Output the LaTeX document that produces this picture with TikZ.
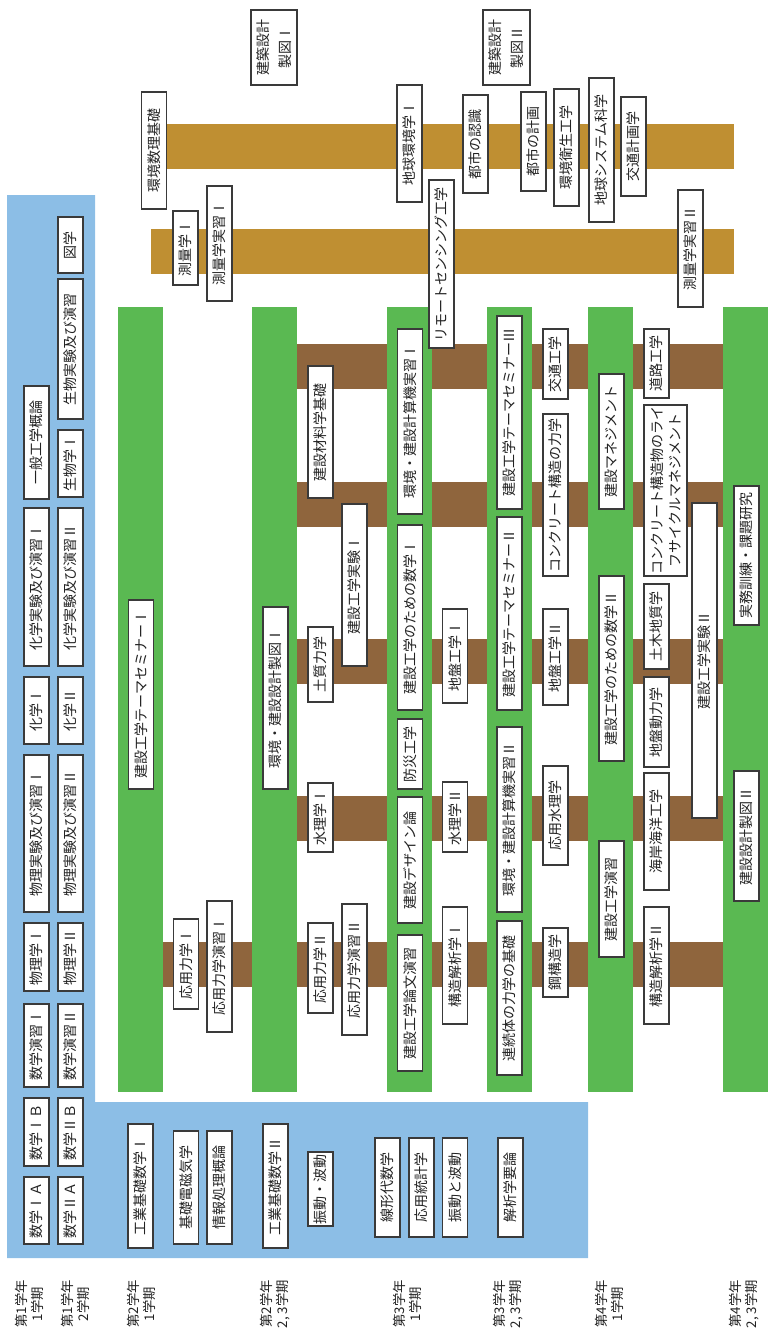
\documentclass[tikz,border=0pt]{standalone}
\usepackage{fontspec}
\newfontfamily\jpfont{Noto Sans CJK JP}
\usepackage{xcolor}
\definecolor{areaBlue}{HTML}{8CBEE6}
\definecolor{termGreen}{HTML}{5AB952}
\definecolor{linkBrown}{HTML}{8F653D}
\definecolor{linkGold}{HTML}{BF8F32}
\definecolor{boxLine}{HTML}{3A3A3A}
\definecolor{darkText}{HTML}{222222}
\tikzset{
    % subject boxes, text running bottom to top
    subject/.style={
        draw=boxLine,
        line width=0.9pt,
        fill=white,
        rotate=90,
        font=\jpfont\fontsize{10.5}{12.5}\selectfont,
        text=darkText,
        inner sep=0pt,
        align=center,
        minimum height=25*0.75pt,
    },
    % box length along the text, in pixels of the sheet
    tall/.style={minimum width=#1*0.75pt},
    wide/.style={minimum height=#1*0.75pt},
    % semester labels under the chart
    term/.style={
        rotate=90,
        align=center,
        text=darkText,
        font=\jpfont\fontsize{10}{12}\selectfont,
    },
    termbar/.style={fill=termGreen},
    link/.style={fill=linkBrown},
    survey/.style={fill=linkGold},
}

\begin{document}
\begin{tikzpicture}[x=0.75pt, y=-0.75pt]
    \useasboundingbox (0,0) rectangle (768,1335);

    % common subjects area
    \fill[areaBlue] (7,195) -- (95,195) -- (95,1102) -- (588,1102)
        -- (588,1258) -- (7,1258) -- cycle;

    % survey links
    \fill[survey] (160,124) rectangle (734,169);
    \fill[survey] (151,229) rectangle (734,274);

    % links between terms
    \foreach \y in {344,482,639,796}
        \fill[link] (297,\y) rectangle (723,\y+45);
    \fill[link] (163,942) rectangle (723,987);

    % terms
    \foreach \x in {118,252,387,487,588,723}
        \fill[termbar] (\x,307) rectangle (\x+45,1092);

    % 1st year
    \node (math1a) [subject, tall=67] at (36.5,1210.5) {数学ⅠＡ};
    \node (math2a) [subject, tall=67] at (70.5,1210.5) {数学ⅡＡ};
    \node (math1b) [subject, tall=68] at (36.5,1132) {数学ⅠＢ};
    \node (math2b) [subject, tall=68] at (70.5,1132) {数学ⅡＢ};
    \node (mathex1) [subject, tall=83] at (36.5,1045.5) {数学演習Ⅰ};
    \node (mathex2) [subject, tall=83] at (70.5,1045.5) {数学演習Ⅱ};
    \node (phys1) [subject, tall=68] at (36.5,957) {物理学Ⅰ};
    \node (phys2) [subject, tall=68] at (70.5,957) {物理学Ⅱ};
    \node (physlab1) [subject, tall=157] at (36.5,833.5) {物理実験及び演習Ⅰ};
    \node (physlab2) [subject, tall=157] at (70.5,833.5) {物理実験及び演習Ⅱ};
    \node (chem1) [subject, tall=67] at (36.5,710.5) {化学Ⅰ};
    \node (chem2) [subject, tall=67] at (70.5,710.5) {化学Ⅱ};
    \node (chemlab1) [subject, tall=158] at (36.5,587) {化学実験及び演習Ⅰ};
    \node (chemlab2) [subject, tall=158] at (70.5,587) {化学実験及び演習Ⅱ};
    \node (geneng) [subject, tall=113] at (36.5,442.5) {一般工学概論};
    \node (bio1) [subject, tall=67] at (70.5,463.5) {生物学Ⅰ};
    \node (biolab) [subject, tall=140] at (70.5,349) {生物実験及び演習};
    \node (drawing) [subject, tall=56] at (70.5,245) {図学};

    % common subjects, later years
    \node (engmath1) [subject, tall=124] at (140.5,1186) {工業基礎数学Ⅰ};
    \node (emag) [subject, tall=113] at (186,1187.5) {基礎電磁気学};
    \node (infoproc) [subject, tall=113] at (219.5,1187.5) {情報処理概論};
    \node (engmath2) [subject, tall=124] at (275.5,1186) {工業基礎数学Ⅱ};
    \node (vibwave) [subject, tall=74] at (320.5,1189) {振動・波動};
    \node (linalg) [subject, tall=99] at (387.5,1187.5) {線形代数学};
    \node (appstat) [subject, tall=99] at (421.5,1187.5) {応用統計学};
    \node (vibwave2) [subject, tall=99] at (455,1187.5) {振動と波動};
    \node (analysis) [subject, tall=99] at (510.5,1187.5) {解析学要論};

    % 2nd year
    \node (seminar1) [subject, tall=189] at (141,694.5) {建設工学テーマセミナーⅠ};
    \node (mech1) [subject, tall=90] at (186,964) {応用力学Ⅰ};
    \node (mechex1) [subject, tall=131] at (219.5,966.5) {応用力学演習Ⅰ};
    \node (design1) [subject, tall=182] at (275.5,698) {環境・建設設計製図Ⅰ};
    \node (material) [subject, tall=132] at (320.5,432) {建設材料学基礎};
    \node (lab1) [subject, tall=162] at (354.5,585) {建設工学実験Ⅰ};
    \node (soil) [subject, tall=75] at (320.5,664.5) {土質力学};
    \node (hydro1) [subject, tall=69] at (320.5,817.5) {水理学Ⅰ};
    \node (mech2) [subject, tall=90] at (320.5,968) {応用力学Ⅱ};
    \node (mechex2) [subject, tall=131] at (354.5,969.5) {応用力学演習Ⅱ};

    % 3rd year
    \node (comp1) [subject, tall=185] at (410,421.5) {環境・建設計算機実習Ⅰ};
    \node (cemath1) [subject, tall=185] at (410,617.5) {建設工学のための数学Ⅰ};
    \node (disaster) [subject, tall=70] at (410,754) {防災工学};
    \node (cdesign) [subject, tall=126] at (410,860) {建設デザイン論};
    \node (thesis) [subject, tall=136] at (410,1003) {建設工学論文演習};
    \node (geotech1) [subject, tall=94] at (455,656) {地盤工学Ⅰ};
    \node (hydro2) [subject, tall=70] at (455,817) {水理学Ⅱ};
    \node (struct1) [subject, tall=117] at (455,965.5) {構造解析学Ⅰ};
    \node (seminar3) [subject, tall=193] at (509.5,412.5) {建設工学テーマセミナーⅢ};
    \node (seminar2) [subject, tall=193] at (509.5,613.5) {建設工学テーマセミナーⅡ};
    \node (comp2) [subject, tall=185] at (509.5,819.5) {環境・建設計算機実習Ⅱ};
    \node (continuum) [subject, tall=154] at (509.5,998) {連続体の力学の基礎};
    \node (traffic) [subject, tall=70] at (555.5,364) {交通工学};
    \node (concrete) [subject, tall=162] at (555.5,495) {コンクリート構造の力学};
    \node (geotech2) [subject, tall=96] at (555.5,657) {地盤工学Ⅱ};
    \node (apphydro) [subject, tall=99] at (555.5,815.5) {応用水理学};
    \node (steel) [subject, tall=69] at (555.5,962.5) {鋼構造学};

    % 4th year
    \node (manage) [subject, tall=135] at (611.5,441.5) {建設マネジメント};
    \node (cemath2) [subject, tall=185] at (611.5,668.5) {建設工学のための数学Ⅱ};
    \node (ceex) [subject, tall=116] at (611.5,899) {建設工学演習};
    \node (road) [subject, tall=69] at (656.5,363.5) {道路工学};
    \node (lifecycle) [subject, tall=171, wide=43] at (665.5,490.5)
        {コンクリート構造物のライ\\[1pt]フサイクルマネジメント};
    \node (geology) [subject, tall=85] at (656.5,626.5) {土木地質学};
    \node (soildyn) [subject, tall=90] at (656.5,722) {地盤動力学};
    \node (coast) [subject, tall=117] at (656.5,831.5) {海岸海洋工学};
    \node (struct2) [subject, tall=117] at (656.5,965.5) {構造解析学Ⅱ};
    \node (lab2) [subject, tall=315] at (704.5,660.5) {建設工学実験Ⅱ};
    \node (research) [subject, tall=139] at (746.5,555.5) {実務訓練・課題研究};
    \node (design2) [subject, tall=130] at (746.5,836) {建設設計製図Ⅱ};

    % subjects from other courses
    \node (arch1) [subject, tall=75, wide=46] at (274,47.5) {建築設計\\[4pt]製図Ⅰ};
    \node (arch2) [subject, tall=75, wide=47] at (506.5,47.5) {建築設計\\[4pt]製図Ⅱ};
    \node (envmath) [subject, tall=117] at (154,150.5) {環境数理基礎};
    \node (survey1) [subject, tall=74] at (185.5,248) {測量学Ⅰ};
    \node (surveyex1) [subject, tall=115] at (219.5,243.5) {測量学実習Ⅰ};
    \node (earthenv) [subject, tall=117] at (409.5,143.5) {地球環境学Ⅰ};
    \node (remote) [subject, tall=168] at (441.5,264) {リモートセンシング工学};
    \node (city1) [subject, tall=98] at (475.5,144) {都市の認識};
    \node (city2) [subject, tall=99] at (533.5,141.5) {都市の計画};
    \node (sanitary) [subject, tall=117] at (566.5,147.5) {環境衛生工学};
    \node (earthsys) [subject, tall=144] at (601.5,150) {地球システム科学};
    \node (transplan) [subject, tall=99] at (633.5,146.5) {交通計画学};
    \node (surveyex2) [subject, tall=117] at (690.5,248.5) {測量学実習Ⅱ};

    % semesters
    \node (y1s1) [term] at (29,1304) {第1学年\\1学期};
    \node (y1s2) [term] at (75,1304) {第1学年\\2学期};
    \node (y2s1) [term] at (141,1304) {第2学年\\1学期};
    \node (y2s23) [term] at (275,1304) {第2学年\\2, 3学期};
    \node (y3s1) [term] at (407,1304) {第3学年\\1学期};
    \node (y3s23) [term] at (508,1304) {第3学年\\2, 3学期};
    \node (y4s1) [term] at (609,1304) {第4学年\\1学期};
    \node (y4s23) [term] at (744,1304) {第4学年\\2, 3学期};
\end{tikzpicture}
\end{document}
